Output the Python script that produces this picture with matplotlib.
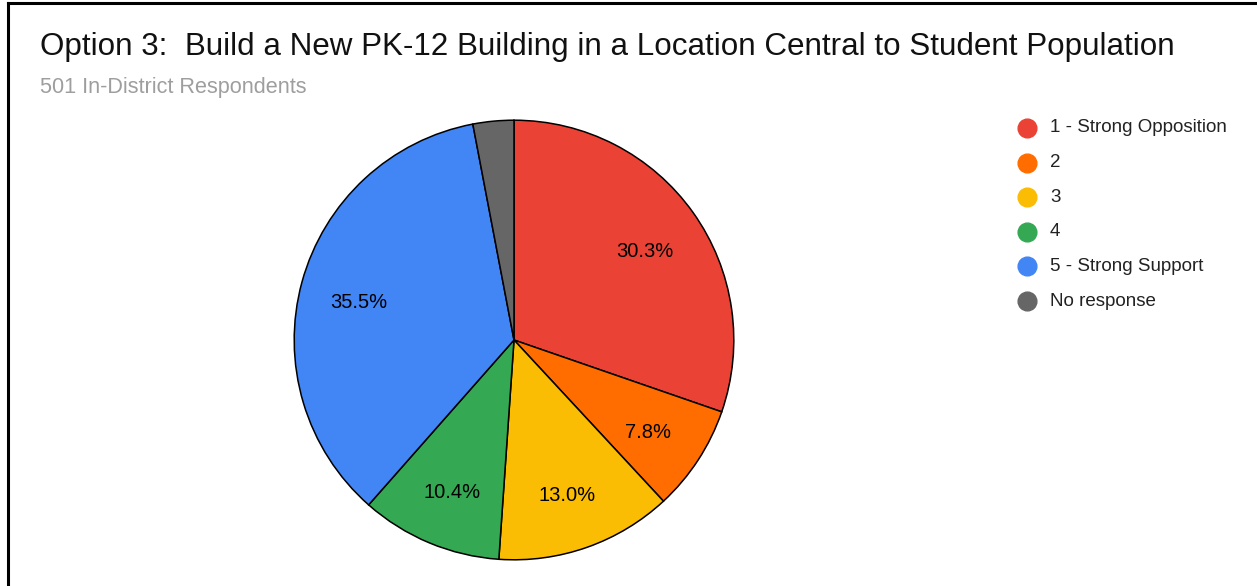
import matplotlib.pyplot as plt
from matplotlib.lines import Line2D

# Дані діаграми
categories = ["1 - Strong Opposition", "2", "3", "4", "5 - Strong Support", "No response"]
shares = [30.3, 7.8, 13.0, 10.4, 35.5, 3.0]
colors = ["#EA4335", "#FF6D01", "#FBBC04", "#34A853", "#4285F4", "#666666"]

title = "Option 3:  Build a New PK-12 Building in a Location Central to Student Population"
subtitle = "501 In-District Respondents"

plt.rcParams["font.family"] = ["Liberation Sans", "DejaVu Sans"]

W, H = 1257, 586
fig = plt.figure(figsize=(W / 100, H / 100), dpi=100)

# Рамка навколо діаграми
fig.add_artist(Line2D([8 / W, 8 / W], [0, 1 - 3 / H], color="black", lw=2.2))
fig.add_artist(Line2D([8 / W, 1], [1 - 3 / H, 1 - 3 / H], color="black", lw=2.2))

# Кругова діаграма
cx, cy, r = 514, 340, 222
ax = fig.add_axes([(cx - r) / W, (H - cy - r) / H, 2 * r / W, 2 * r / H])
_, _, autotexts = ax.pie(
    shares,
    colors=colors,
    startangle=90,
    counterclock=False,
    autopct=lambda p: f"{p:.1f}%" if p >= 5 else "",
    pctdistance=0.73,
    wedgeprops={"edgecolor": "black", "linewidth": 1.1},
    textprops={"fontsize": 14.5, "color": "black"},
)
# трохи опускаємо підписи, як у Google Charts
for t in autotexts:
    x, y = t.get_position()
    t.set_position((x, y - 0.02))
ax.set_xlim(-1.01, 1.01)
ax.set_ylim(-1.01, 1.01)
ax.set_aspect("equal")
ax.axis("off")

# Заголовок і підзаголовок
fig.text(40 / W, 1 - 47 / H, title, fontsize=22.6, va="center", ha="left", color="#111111")
fig.text(40 / W, 1 - 88 / H, subtitle, fontsize=15.6, va="center", ha="left", color="#9E9E9E")

# Легенда
for i, (label, color) in enumerate(zip(categories, colors)):
    y = 1 - (128 + i * 34.6) / H
    fig.add_artist(Line2D([1027 / W], [y], marker="o", markersize=13.5,
                          markerfacecolor=color, markeredgecolor=color, lw=0))
    fig.text(1050 / W, y, label, fontsize=13.5, va="center", ha="left", color="#222222")

fig.savefig("out.png", dpi=100)
